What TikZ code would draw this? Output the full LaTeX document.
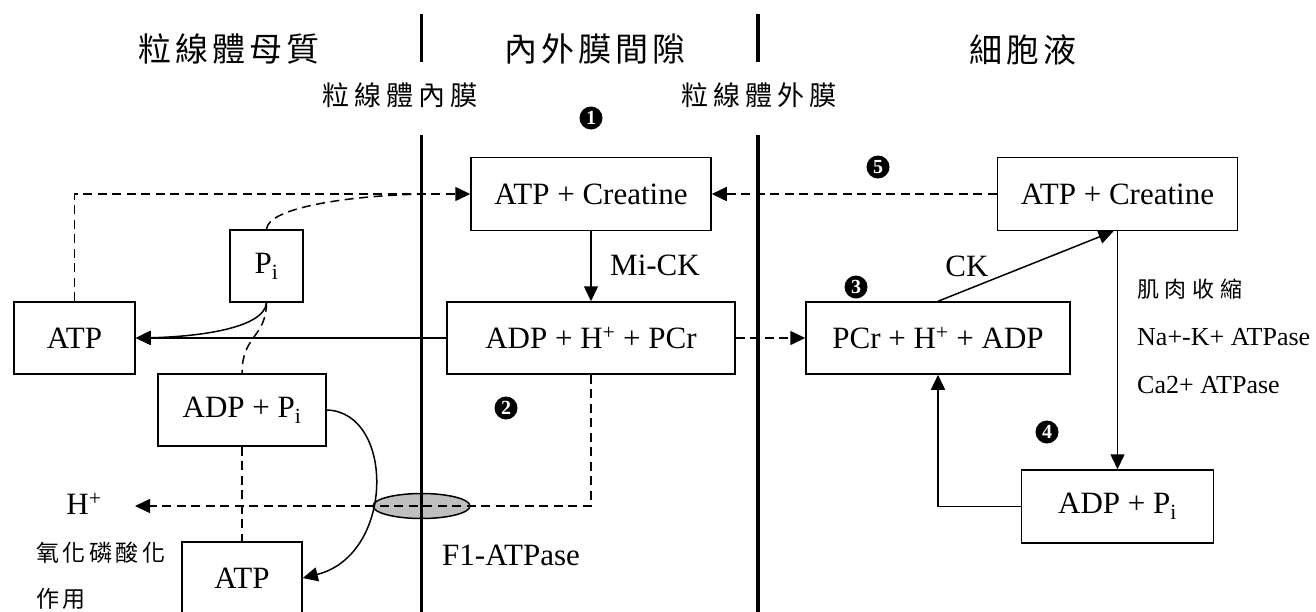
\documentclass[tikz,border=0pt]{standalone}
\usepackage{fontspec}
\setmainfont{Liberation Serif}
\newfontfamily\cjkfont{Noto Sans CJK TC}
\usetikzlibrary{arrows.meta,shapes.geometric}
\newcommand\fsz[1]{\fontsize{#1}{#1}\selectfont}
\makeatletter
\newcommand\cjksp[2]{\def\cjk@gap{#1}\cjk@first#2\relax}
\def\cjk@first#1{#1\cjk@rest}
\def\cjk@rest#1{\ifx\relax#1\else\hspace{\cjk@gap}#1\expandafter\cjk@rest\fi}
\makeatother
\tikzset{
  bx/.style={draw, line width=1.5pt, inner sep=0pt, font=\fsz{31}},
  dsh/.style={dash pattern=on 9pt off 5.5pt},
  arr/.style={-{Triangle[length=15pt,width=14pt]}},
  conn/.style={line width=1.5pt},
  numc/.style={circle, fill=black, text=white, inner sep=0pt, minimum size=23pt, font=\fsz{20}\bfseries},
  memb/.style={line width=3.2pt},
  lbl/.style={inner sep=0pt},
}
\begin{document}
\begin{tikzpicture}[x=1pt,y=-1pt]
\clip (0,0) rectangle (1316,611);
\fill[white] (0,0) rectangle (1316,611);
% headers
\node[lbl, font=\cjkfont\fsz{33}] (h1) at (229,49) {\cjksp{4pt}{粒線體母質}};
\node[lbl, font=\cjkfont\fsz{33}] (h2) at (595,49) {\cjksp{4pt}{內外膜間隙}};
\node[lbl, font=\cjkfont\fsz{33}] (h3) at (1023,50) {\cjksp{4pt}{細胞液}};
\node[lbl, font=\cjkfont\fsz{27}] (s1) at (400,95) {\cjksp{5pt}{粒線體內膜}};
\node[lbl, font=\cjkfont\fsz{27}] (s2) at (759,95) {\cjksp{5pt}{粒線體外膜}};
% ellipse (F1-ATPase)
\node[ellipse, draw, line width=1.5pt, fill=black!25, minimum width=97pt, minimum height=25pt, inner sep=0pt] (f1) at (421.5,506) {};
% membranes
\coordinate (m1a) at (421.5,14); \coordinate (m1b) at (421.5,62);
\coordinate (m1c) at (421.5,135); \coordinate (m1d) at (421.5,615);
\coordinate (m2a) at (758,14); \coordinate (m2b) at (758,62);
\coordinate (m2c) at (758,135); \coordinate (m2d) at (758,615);
\draw[memb] (m1a) -- (m1b); \draw[memb] (m1c) -- (m1d);
\draw[memb] (m2a) -- (m2b); \draw[memb] (m2c) -- (m2d);
% boxes
\node[bx, minimum width=121pt, minimum height=72pt] (atpL) at (74.5,338) {ATP};
\node[bx, minimum width=73pt, minimum height=72pt] (pi) at (266.5,266) {P\textsubscript{i}};
\node[bx, minimum width=168pt, minimum height=72pt] (adppiL) at (242,410) {ADP + P\textsubscript{i}};
\node[bx, minimum width=120pt, minimum height=72pt] (atpB) at (242,578) {ATP};
\node[bx, minimum width=240pt, minimum height=73pt] (atpcM) at (591,194) {ATP + Creatine};
\node[bx, minimum width=288pt, minimum height=72pt] (adphM) at (591,338) {ADP + H\textsuperscript{+} + PCr};
\node[bx, minimum width=240pt, minimum height=73pt] (atpcR) at (1117.5,194) {ATP + Creatine};
\node[bx, minimum width=264pt, minimum height=72pt] (pcrR) at (938,338) {PCr + H\textsuperscript{+} + ADP};
\node[bx, minimum width=192pt, minimum height=73pt] (adppiR) at (1117.5,506.5) {ADP + P\textsubscript{i}};
% labels
\node[lbl, font=\fsz{31}] (hplus) at (84,504) {H\textsuperscript{+}};
\coordinate (htip) at (135,506);
\node[lbl, font=\fsz{31}, anchor=west] (f1lbl) at (442,555) {F1-ATPase};
\node[lbl, font=\fsz{31}, anchor=west] (mick) at (610,265) {Mi-CK};
\node[lbl, font=\fsz{31}] (ck) at (967,266) {CK};
\node[lbl, font=\cjkfont\fsz{22}, anchor=west] (mus) at (1137,289) {\cjksp{5.7pt}{肌肉收縮}};
\node[lbl, font=\fsz{26}, anchor=west] (nak) at (1137,337) {Na+-K+ ATPase};
\node[lbl, font=\fsz{26}, anchor=west] (caa) at (1137,385) {Ca2+ ATPase};
\node[lbl, font=\cjkfont\fsz{23}, anchor=west] (ox1) at (36,553) {\cjksp{3.5pt}{氧化磷酸化}};
\node[lbl, font=\cjkfont\fsz{23}, anchor=west] (ox2) at (36,599) {\cjksp{3.5pt}{作用}};
% numbers
\node[numc] (n1) at (591,118) {1};
\node[numc] (n2) at (506,408) {2};
\node[numc] (n3) at (856,287) {3};
\node[numc] (n4) at (1047,432) {4};
\node[numc] (n5) at (878,167) {5};
% connectors
\coordinate (merge) at (421.5,194);
\draw[conn, dsh, arr] (atpL.north) |- (atpcM.west);
\draw[conn, dsh] (pi.north) .. controls (268,208) and (345,196) .. (merge);
\draw[conn, arr] (adphM.west) -- (atpL.east);
\draw[conn, arr] (pi.south) .. controls (264,330) and (190,337) .. (atpL.east);
\draw[conn, dsh] (pi.south) .. controls (266,338) and (242,335) .. (adppiL.north);
\draw[conn, dsh] (adppiL.south) -- (atpB.north);
\draw[conn, arr] (adppiL.east) .. controls (395,412) and (395,555) .. (atpB.east);
\draw[conn, dsh, arr] (adphM.south) |- (htip);
\draw[conn, arr] (atpcM.south) -- (adphM.north);
\draw[conn, dsh, arr] (adphM.east) -- (pcrR.west);
\draw[conn, dsh, arr] (atpcR.west) -- (atpcM.east);
\draw[conn, arr] (pcrR.north) -- ([xshift=-4pt]atpcR.south);
\draw[conn, arr] (atpcR.south) -- (adppiR.north);
\draw[conn, arr] (adppiR.west) -| (pcrR.south);
\end{tikzpicture}
\end{document}
